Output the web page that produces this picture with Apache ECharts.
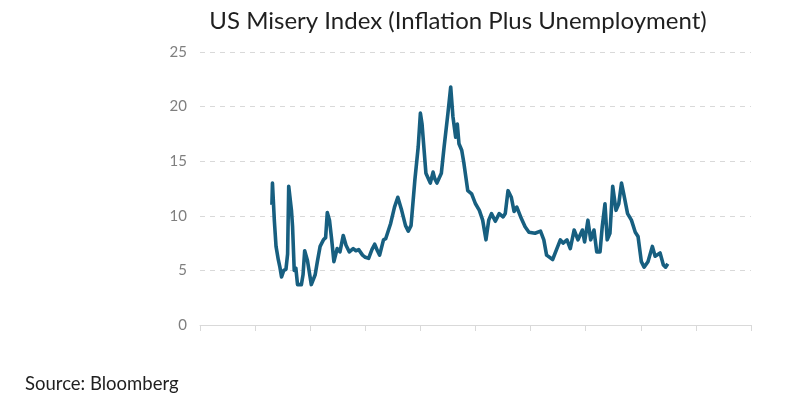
<!DOCTYPE html>
<html>
<head>
<meta charset="utf-8">
<script src="https://cdn.jsdelivr.net/npm/echarts@6/dist/echarts.min.js"></script>
<style>
html,body{margin:0;padding:0;background:#fff;}
#chart{width:800px;height:404px;}
</style>
</head>
<body>
<div id="chart"></div>
<script>
// Year (decimal) and misery index value
const years = [
1948.05,1948.15,1948.3,1948.5,1948.8,1949.2,1949.5,1949.8,1950.2,1950.6,1950.9,1951.1,1951.4,1951.6,1951.8,1952.1,1952.4,1952.7,1953.0,1953.4,
1953.7,1954.0,1954.5,1955.2,1955.9,1956.3,1956.8,1957.4,1957.8,1958.1,1958.5,1958.9,1959.3,1959.9,1960.4,1961.0,1961.5,1962.1,1962.8,1963.3,
1963.8,1964.5,1965.0,1965.6,1966.2,1966.7,1967.2,1967.6,1968.3,1968.7,1969.6,1970.3,1970.9,1971.6,1972.3,1972.8,1973.3,1974.0,1974.6,1975.0,
1975.3,1976.0,1976.8,1977.3,1977.6,1978.0,1978.8,1979.3,1980.0,1980.5,1980.9,1981.4,1981.7,1982.0,1982.5,1982.9,1983.6,1984.3,1985.0,1985.7,
1986.3,1986.9,1987.4,1987.9,1988.6,1989.3,1990.0,1990.4,1990.9,1991.5,1992.0,1992.5,1993.2,1994.0,1994.7,1995.8,1996.8,1997.4,1997.9,1999.0,
1999.7,2000.4,2000.9,2001.6,2002.2,2002.9,2003.6,2004.4,2004.8,2005.4,2005.9,2006.5,2007.0,2007.6,2008.0,2008.5,2008.9,2009.4,2009.9,2010.5,
2011.0,2011.5,2011.9,2012.6,2013.3,2014.0,2014.5,2015.1,2015.6,2016.3,2017.1,2017.6,2018.5,2019.1,2019.5,2019.9
];
const misery = [
11.0,13.0,12.9,9.5,7.2,6.0,5.3,4.4,5.0,5.1,6.5,12.7,12.6,10.5,9.0,5.0,5.2,3.7,3.7,3.7,
4.6,6.8,5.9,3.7,4.6,5.8,7.2,7.8,8.0,10.3,9.6,7.8,5.8,7.0,6.7,8.2,7.3,6.7,7.0,6.8,
6.9,6.4,6.2,6.1,6.9,7.4,6.8,6.4,7.8,7.9,9.3,10.8,11.7,10.5,9.1,8.6,9.1,13.3,16.3,19.4,
18.4,13.9,13.0,14.0,13.4,13.0,13.9,16.3,19.4,21.8,19.1,17.2,18.4,16.6,16.0,14.8,12.3,12.0,11.1,10.5,
9.6,7.8,9.6,10.2,9.5,10.2,9.9,10.2,12.3,11.7,10.4,10.8,9.9,9.0,8.5,8.4,8.6,7.8,6.4,6.0,
6.9,7.8,7.5,7.8,7.0,8.7,7.8,8.7,7.6,9.6,7.8,8.7,6.7,6.7,9.0,11.1,7.8,8.4,12.7,10.5,
11.1,13.0,12.0,10.2,9.6,8.5,8.1,5.8,5.3,5.8,7.2,6.3,6.6,5.5,5.3,5.6
];
const yTicks = [0,5,10,15,20,25];
const xTickYears = [1935,1945,1955,1965,1975,1985,1995,2005,2015,2025,2035];

const chart = echarts.init(document.getElementById('chart'));
chart.setOption({
  animation:false,
  backgroundColor:'#ffffff',
  title:[
    {text:'US Misery Index (Inflation Plus Unemployment)',left:453,top:4,textAlign:'center',
     textStyle:{fontFamily:'Lato',fontSize:24,fontWeight:'normal',color:'#1f1f1f'}},
    {text:'Source: Bloomberg',left:20,top:370,
     textStyle:{fontFamily:'Lato',fontSize:18.5,fontWeight:'normal',color:'#1f1f1f'}}
  ],
  grid:{left:200,right:49,top:52,bottom:79},
  xAxis:{
    type:'value',min:1935,max:2035,
    axisLine:{show:true,lineStyle:{color:'#d9d9d9',width:1}},
    axisTick:{show:true,length:6,lineStyle:{color:'#d9d9d9'},customValues:xTickYears},
    axisLabel:{show:false},
    splitLine:{show:false}
  },
  yAxis:{
    type:'value',min:0,max:25,interval:5,
    axisLine:{show:false},axisTick:{show:false},
    axisLabel:{fontFamily:'Lato',fontSize:15,color:'#7f7f7f',margin:13,customValues:yTicks},
    splitLine:{show:true,lineStyle:{color:'#d9d9d9',type:[5,5],width:1}}
  },
  series:[{
    type:'line',
    data:years.map((y,i)=>[y,misery[i]]),
    showSymbol:false,
    lineStyle:{color:'#175f80',width:3.6,join:'round'},
    itemStyle:{color:'#175f80'}
  }]
});
</script>
</body>
</html>
